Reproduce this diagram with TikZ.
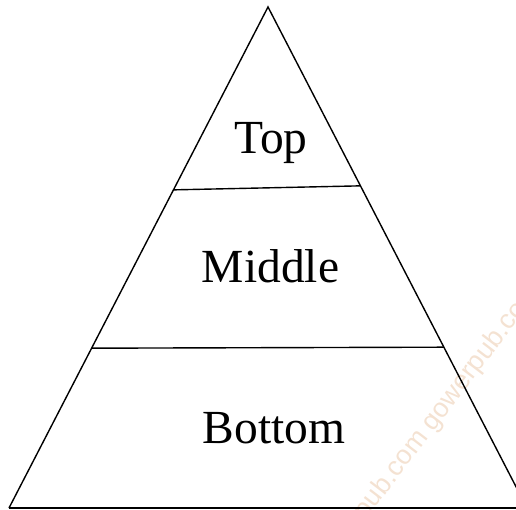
\documentclass[tikz,border=0pt]{standalone}
\usepackage{fontspec}
\setmainfont{Liberation Serif}
\newfontfamily\wmfont{Liberation Sans}
\usetikzlibrary{calc}
\definecolor{wmcol}{RGB}{244,226,210}
\tikzset{
  edge/.style={line width=1.4pt, line join=miter},
  level/.style={font=\fontsize{47.5}{56}\selectfont, anchor=base, inner sep=0pt},
  wm/.style={font=\wmfont\fontsize{27}{30}\selectfont, text=wmcol, rotate=52.6, inner sep=0pt}
}
\begin{document}
\begin{tikzpicture}[x=1pt,y=-1pt]
\useasboundingbox (0,0) rectangle (516,510);
\clip (0,0) rectangle (516,510);
% watermark
\node[wm, anchor=base] (wm) at (431,435) {gowerpub.com gowerpub.com};
% triangle
\coordinate (apex) at (268,7);
\coordinate (bl) at (9,508);
\coordinate (br) at (527,508);
\draw[edge] (bl) -- (apex) -- (br);
\draw[line width=1.8pt] (bl) -- (br);
% dividers
\coordinate (d1l) at ($(apex)!0.365!(bl)$);
\coordinate (d1r) at ($(apex)!0.357!(br)$);
\coordinate (d2l) at ($(apex)!0.681!(bl)$);
\coordinate (d2r) at ($(apex)!0.679!(br)$);
\draw[edge] (d1l) -- (d1r);
\draw[edge] (d2l) -- (d2r);
% labels
\node[level] (top) at (271,154) {Top};
\node[level] (mid) at (270.5,283) {Middle};
\node[level] (bot) at (274,443) {Bottom};
\end{tikzpicture}
\end{document}
